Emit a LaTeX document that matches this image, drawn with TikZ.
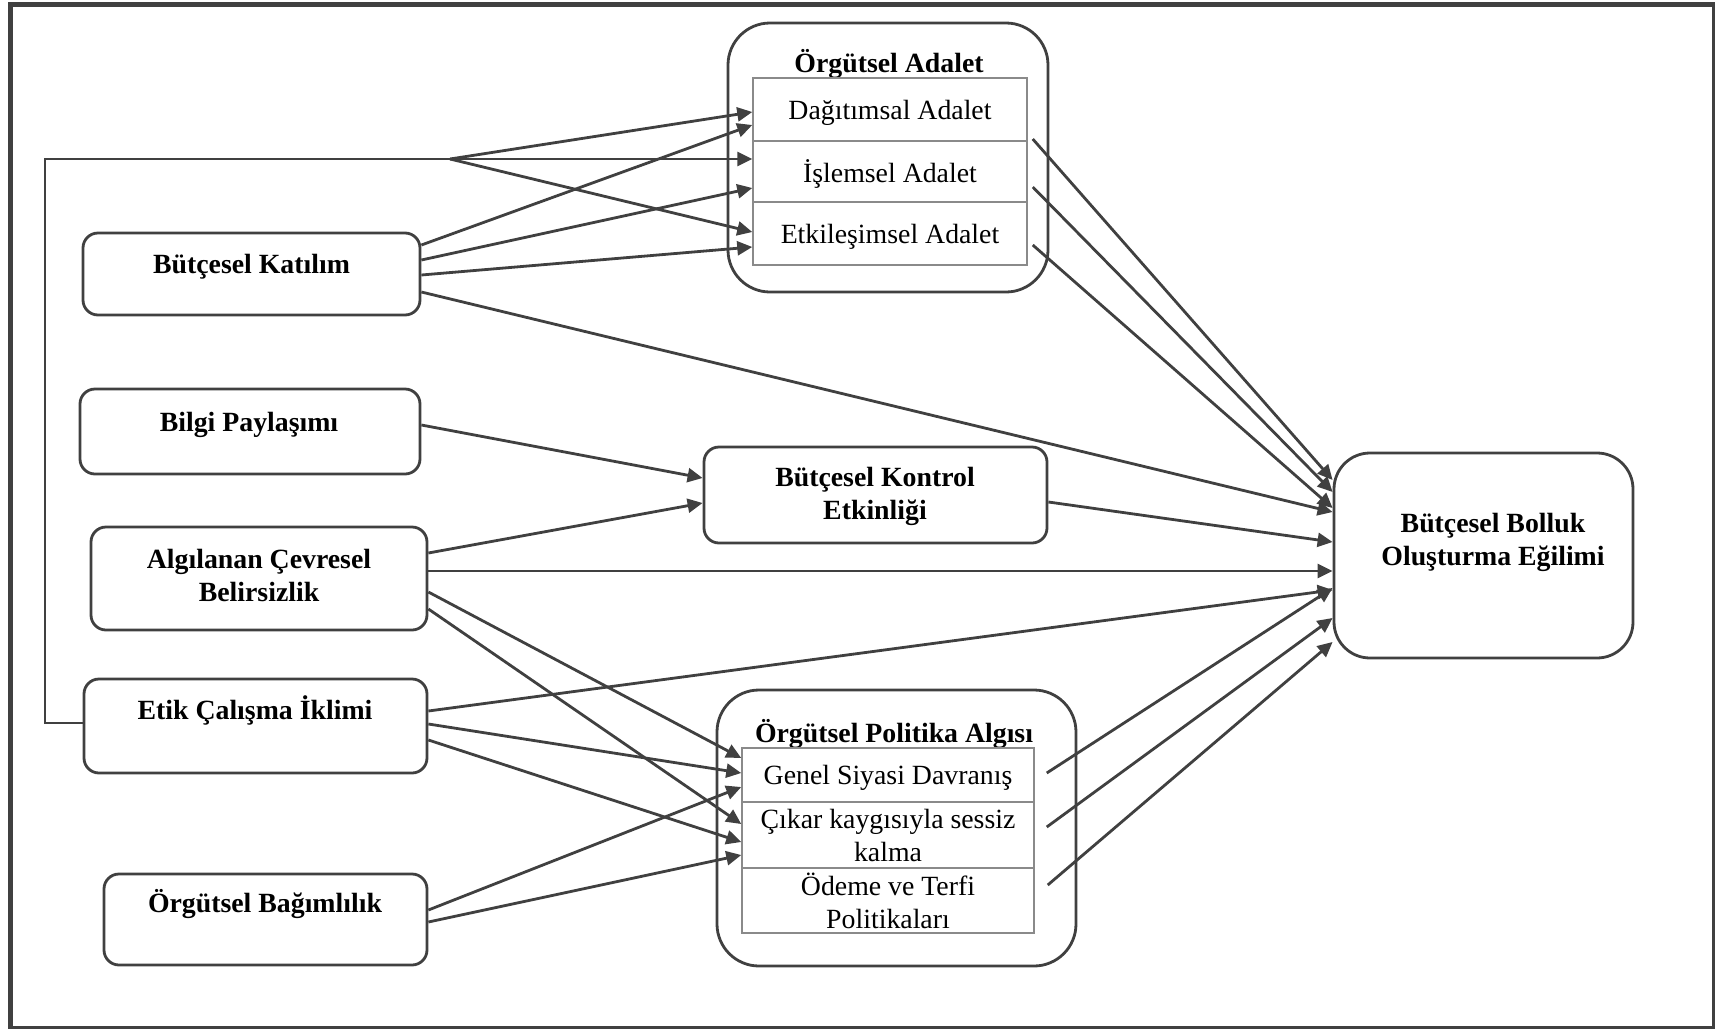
\documentclass[tikz,border=0pt]{standalone}
\usepackage{fontspec}
\setmainfont{Liberation Serif}
\usetikzlibrary{arrows.meta}
\definecolor{ink}{HTML}{404040}
\definecolor{rulegray}{HTML}{8A8A8A}
\newcommand{\figfont}{\fontsize{13.9pt}{16.5pt}\selectfont}
\tikzset{
  box/.style={draw=ink, line width=1.4pt, rounded corners=7.5pt, inner sep=0pt, fill=white},
  bigbox/.style={box, rounded corners=21pt},
  cell/.style={draw=rulegray, line width=0.75pt, inner sep=0pt, align=center, font=\figfont},
  onecell/.style={cell, text depth=0pt},
  lbl/.style={font=\figfont\bfseries, align=center, anchor=base, inner sep=0pt},
  link/.style={draw=ink, line width=1.4pt, -{Triangle[length=7.5pt,width=7pt]}},
  wire/.style={draw=ink, line width=1.1pt},
}
\begin{document}
\begin{tikzpicture}[x=0.5pt, y=-0.5pt]
\useasboundingbox (0,0) rectangle (1715,1029);
% outer frame
\draw[ink, line width=2.5pt] (10.5,4.5) rectangle (1714,1028.5);

% Örgütsel Adalet group
\node[bigbox, minimum width=160pt, minimum height=134.5pt] (oa) at (888,157.5) {};
\node[lbl] (oa-t) at (889,72) {Örgütsel Adalet};
\node[onecell, minimum width=137pt, minimum height=31.5pt] (dag) at (890,109.5) {Dağıtımsal Adalet};
\node[onecell, minimum width=137pt, minimum height=30.5pt] (isl) at (890,171.5) {İşlemsel Adalet};
\node[onecell, minimum width=137pt, minimum height=31.5pt] (etk) at (890,233.5) {Etkileşimsel Adalet};

% Örgütsel Politika Algısı group
\node[bigbox, minimum width=179.5pt, minimum height=138pt] (opa) at (896.5,828) {};
\node[lbl] (opa-t) at (894,742) {Örgütsel Politika Algısı};
\node[onecell, minimum width=146pt, minimum height=27pt] (gsd) at (888,775) {Genel Siyasi Davranış};
\node[cell, minimum width=146pt, minimum height=33pt] (cks) at (888,835) {Çıkar kaygısıyla sessiz\\kalma};
\node[cell, minimum width=146pt, minimum height=32.5pt] (otp) at (888,900.5) {Ödeme ve Terfi\\Politikaları};

% left-hand variables
\node[box, minimum width=168.5pt, minimum height=41pt] (bk) at (251.5,274) {};
\node[lbl] (bk-t) at (251.5,273) {Bütçesel Katılım};
\node[box, minimum width=170pt, minimum height=42.5pt] (bp) at (250,431.5) {};
\node[lbl] (bp-t) at (249,431) {Bilgi Paylaşımı};
\node[box, minimum width=168pt, minimum height=51.5pt] (acb) at (259,578.5) {};
\node[lbl] (acb-t) at (259,601) {Algılanan Çevresel\\Belirsizlik};
\node[box, minimum width=171.5pt, minimum height=47pt] (etik) at (255.5,726) {};
\node[lbl] (etik-t) at (255,719) {Etik Çalışma İklimi};
\node[box, minimum width=161.5pt, minimum height=45.5pt] (ob) at (265.5,919.5) {};
\node[lbl] (ob-t) at (265,912) {Örgütsel Bağımlılık};

% mediator and outcome
\node[box, minimum width=171.5pt, minimum height=48pt] (bke) at (875.5,495) {};
\node[lbl] (bke-t) at (875,519) {Bütçesel Kontrol\\Etkinliği};
\node[box, rounded corners=18pt, minimum width=149.5pt, minimum height=102.5pt] (bol) at (1483.5,555.5) {};
\node[lbl] (bol-t) at (1493,565) {Bütçesel Bolluk\\Oluşturma Eğilimi};

% ethical climate routed around to the justice dimensions
\coordinate (fan) at (450,159);
\draw[wire] (etik.west |- 0,723) -- (45,723) -- (45,159) -- (fan);
\draw[link] (fan) -- (dag.west |- 0,112);
\draw[link] (fan) -- (isl.west |- 0,159);
\draw[link] (fan) -- (etk.west |- 0,232);

% budget participation
\draw[link] (bk.east |- 0,245) -- (dag.west |- 0,125);
\draw[link] (bk.east |- 0,260) -- (isl.west |- 0,188);
\draw[link] (bk.east |- 0,275) -- (etk.west |- 0,247);
\draw[link] (bk.east |- 0,292) -- (bol.west |- 0,512);

% justice dimensions to slack
\draw[link] ([xshift=2.5pt]dag.east |- 0,139) -- (bol.west |- 0,480);
\draw[link] ([xshift=2.5pt]isl.east |- 0,187) -- (bol.west |- 0,492);
\draw[link] ([xshift=2.5pt]etk.east |- 0,245) -- (bol.west |- 0,508);

% budget control effectiveness
\draw[link] (bp.east |- 0,425) -- (bke.west |- 0,478);
\draw[link] (acb.east |- 0,553) -- (bke.west |- 0,503);
\draw[link] (bke.east |- 0,502) -- (bol.west |- 0,542);

% environmental uncertainty
\draw[link] (acb.east |- 0,571) -- (bol.west |- 0,571);
\draw[link] (acb.east |- 0,592) -- (gsd.west |- 0,758);
\draw[link] (acb.east |- 0,609) -- (cks.west |- 0,824);

% ethical climate
\draw[link] (etik.east |- 0,711) -- (bol.west |- 0,590);
\draw[link] (etik.east |- 0,724) -- (gsd.west |- 0,773);
\draw[link] (etik.east |- 0,740) -- (cks.west |- 0,842);

% organisational dependence
\draw[link] (ob.east |- 0,910) -- (gsd.west |- 0,787);
\draw[link] (ob.east |- 0,922) -- (cks.west |- 0,855);

% politics perception to slack
\draw[link] ([xshift=6pt]gsd.east |- 0,773) -- (bol.west |- 0,588);
\draw[link] ([xshift=6pt]cks.east |- 0,827) -- (bol.west |- 0,618);
\draw[link] ([xshift=6.5pt]otp.east |- 0,885) -- (bol.west |- 0,642);
\end{tikzpicture}
\end{document}
